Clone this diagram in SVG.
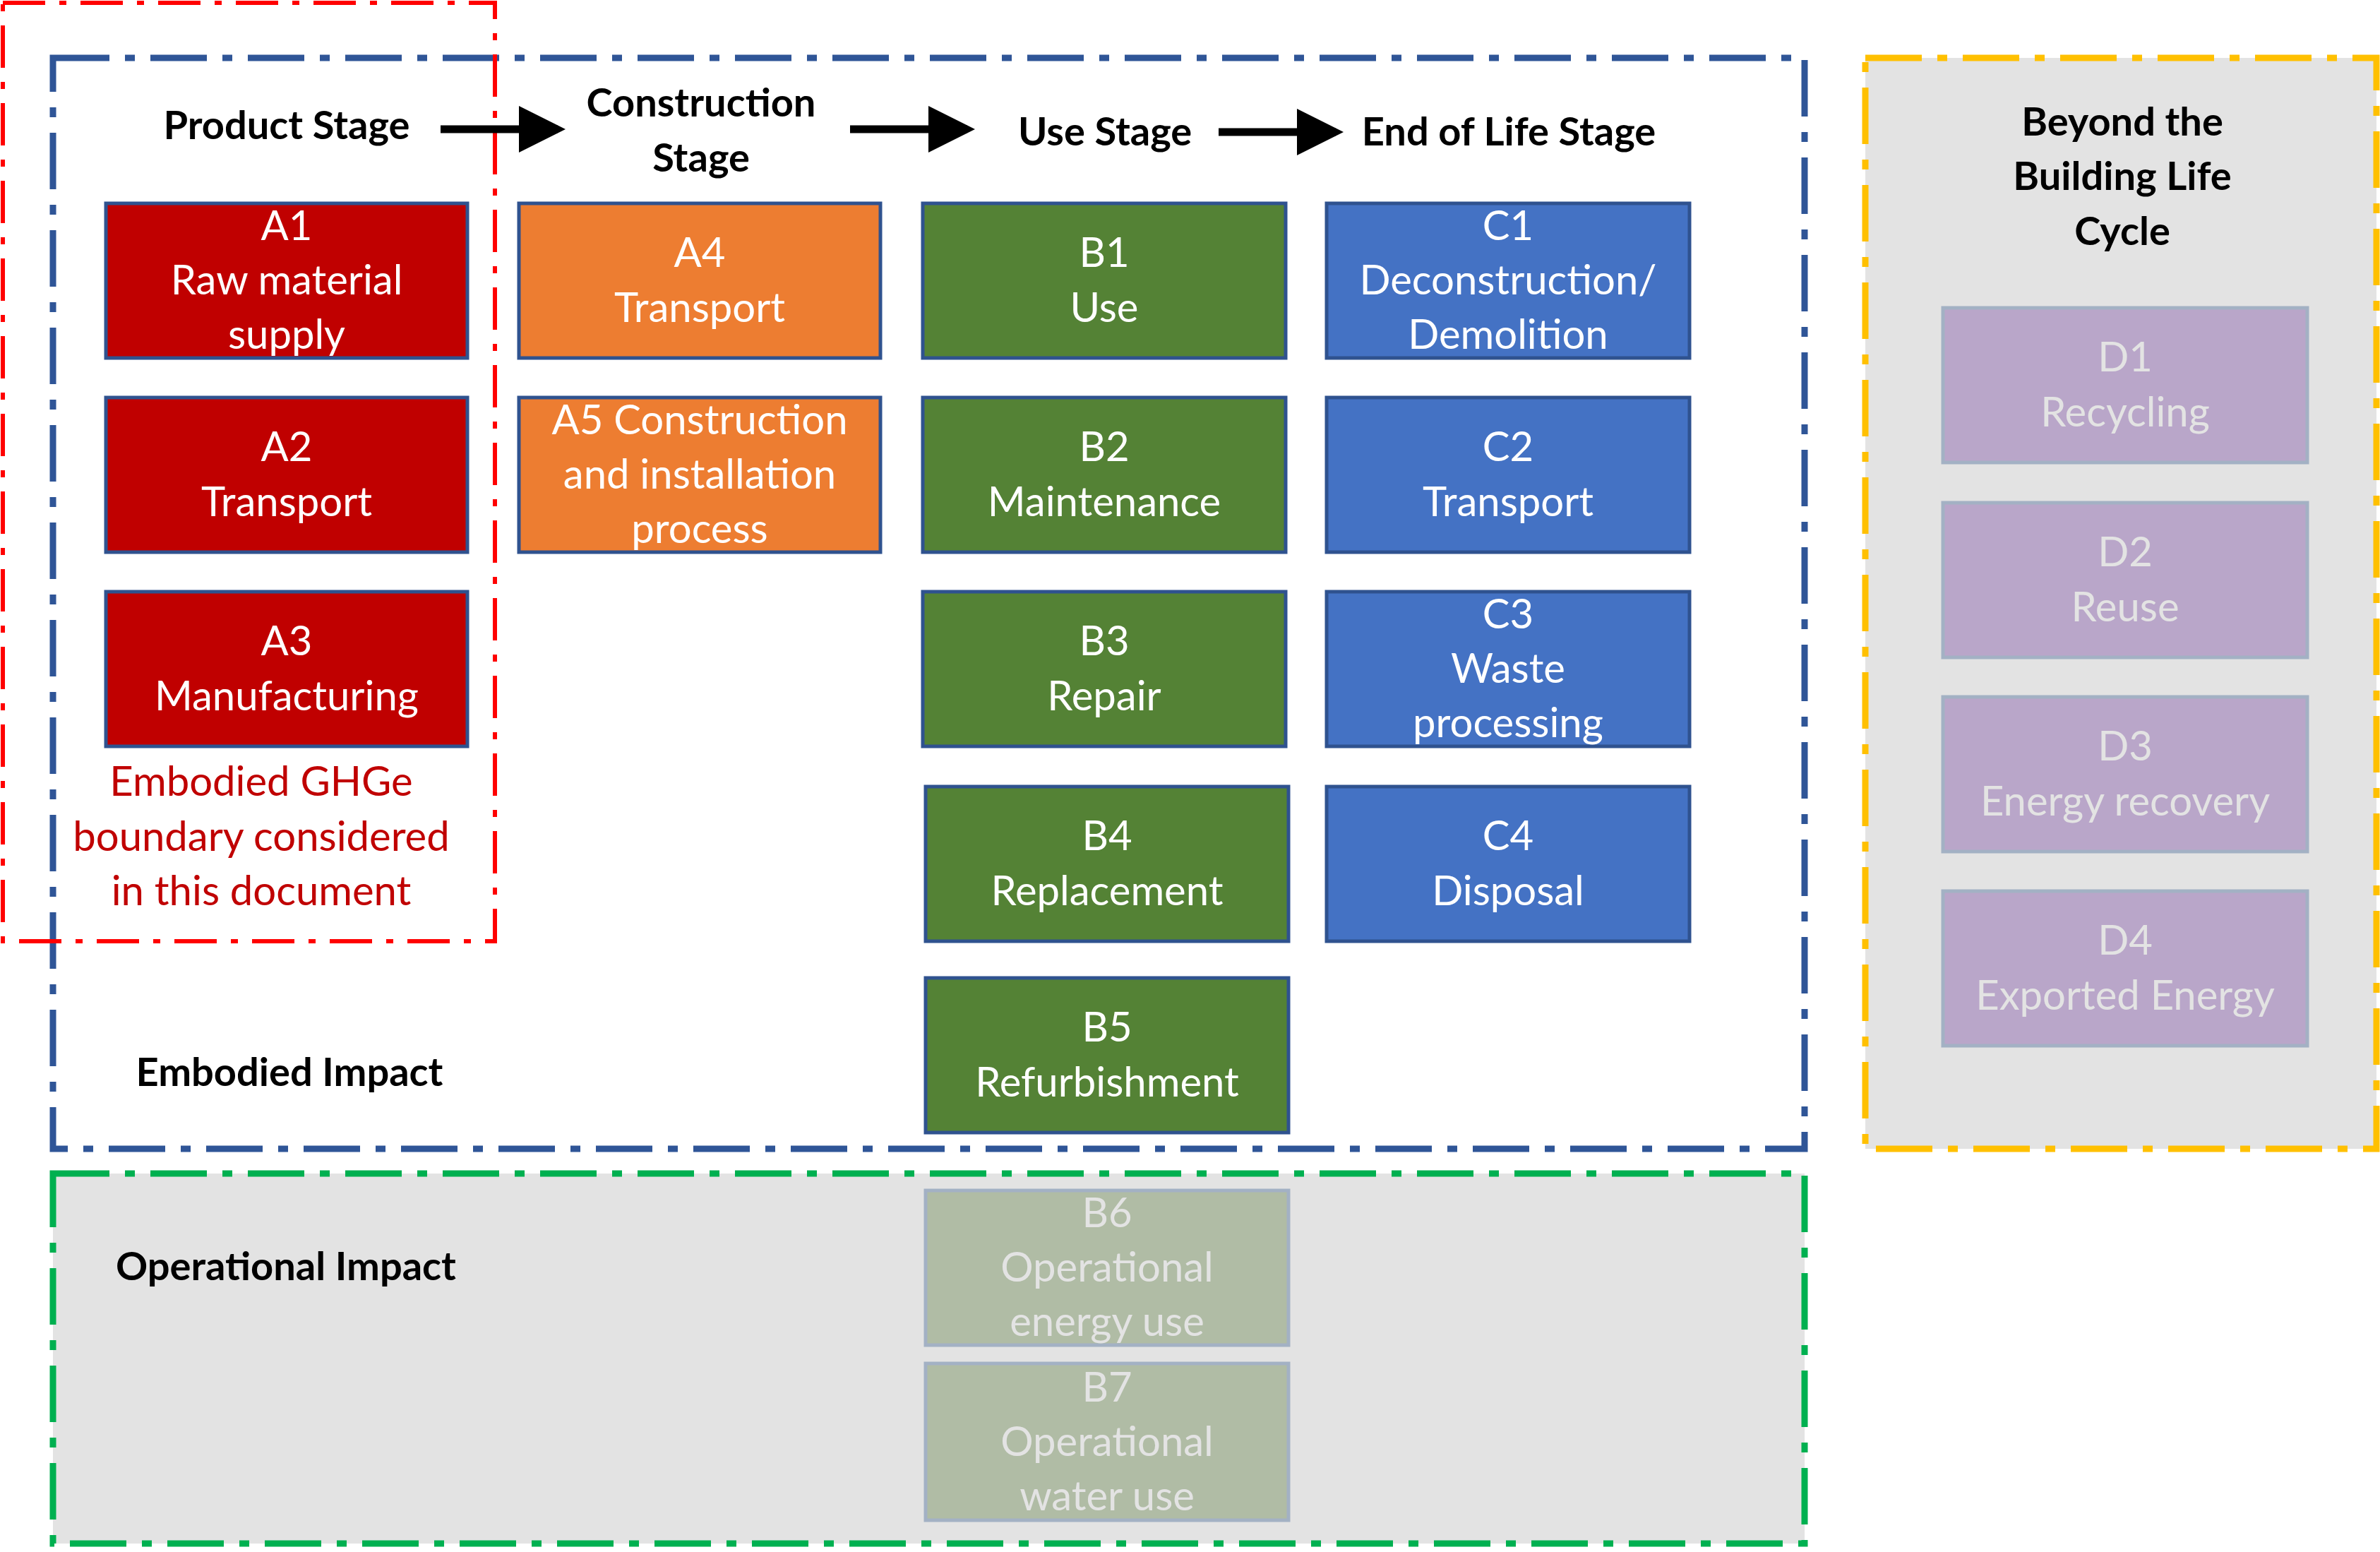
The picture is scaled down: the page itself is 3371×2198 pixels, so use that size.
<svg xmlns="http://www.w3.org/2000/svg" width="3371" height="2198" viewBox="0 0 3371 2198">
<style>
text{font-family:Lato,"Liberation Sans",sans-serif;text-anchor:middle}
.h{font-weight:bold;font-size:56px;fill:#000}
.t{font-size:58px;fill:#fff}
.d{font-size:58px;fill:#e3e3e3}
.nA{fill:#c00000;stroke:#2f528f;stroke-width:5}
.nA4{fill:#ed7d31;stroke:#2f528f;stroke-width:5}
.nB{fill:#548235;stroke:#2f528f;stroke-width:5}
.nC{fill:#4472c4;stroke:#2f528f;stroke-width:5}
.nD{fill:#b9a6c9;stroke:#a3b1c4;stroke-width:5}
.nO{fill:#b0bca5;stroke:#a3b1c4;stroke-width:5}
</style>
<defs>
<marker id="ah" markerWidth="6" markerHeight="6" refX="5" refY="3" orient="auto" markerUnits="strokeWidth"><path d="M0,0 L6,3 L0,6z" fill="#000"/></marker>
</defs>
<rect x="0" y="0" width="3371" height="2198" fill="#fff"/>
<g id="op-bg"><rect x="75" y="1662" width="2481" height="524" fill="#e3e3e3" stroke="#00b050" stroke-width="9" stroke-dasharray="80 22 14 22"/></g>
<g id="beyond-bg"><rect x="2642" y="82" width="724" height="1545" fill="#e3e3e3" stroke="#ffc000" stroke-width="9" stroke-dasharray="80 22 14 22"/></g>
<g id="embodied-box"><rect x="75" y="82" width="2481" height="1545" fill="none" stroke="#2f5597" stroke-width="9" stroke-dasharray="80 22 14 22"/></g>
<g id="ghg-boundary"><rect x="4" y="4" width="697" height="1329" fill="none" stroke="#ff0000" stroke-width="6" stroke-dasharray="60 20 10 20"/></g>
<g id="headers">
<text class="h" x="406" y="197">Product Stage</text>
<text class="h" x="993" y="165">Construction</text>
<text class="h" x="993" y="243">Stage</text>
<text class="h" x="1565" y="206">Use Stage</text>
<text class="h" x="2137" y="206">End of Life Stage</text>
<text class="h" x="410" y="1538">Embodied Impact</text>
<text class="h" x="405" y="1813">Operational Impact</text>
<text class="h" x="3006" y="192">Beyond the</text>
<text class="h" x="3006" y="269">Building Life</text>
<text class="h" x="3006" y="347">Cycle</text>
<text x="370" y="1127" style="font-size:58px;fill:#c00000">Embodied GHGe</text>
<text x="370" y="1205" style="font-size:58px;fill:#c00000">boundary considered</text>
<text x="370" y="1282" style="font-size:58px;fill:#c00000">in this document</text>
</g>
<g id="connectors" stroke="#000" stroke-width="11" marker-end="url(#ah)">
<line x1="624" y1="183" x2="790" y2="183"/>
<line x1="1204" y1="183" x2="1370" y2="183"/>
<line x1="1726" y1="187" x2="1892" y2="187"/>
</g>
<g id="A1"><rect class="nA" x="150" y="288" width="512" height="219"/><text class="t" x="406" y="340">A1</text><text class="t" x="406" y="417">Raw material</text><text class="t" x="406" y="494">supply</text></g>
<g id="A2"><rect class="nA" x="150" y="563" width="512" height="219"/><text class="t" x="406" y="653">A2</text><text class="t" x="406" y="731">Transport</text></g>
<g id="A3"><rect class="nA" x="150" y="838" width="512" height="219"/><text class="t" x="406" y="928">A3</text><text class="t" x="406" y="1006">Manufacturing</text></g>
<g id="A4"><rect class="nA4" x="735" y="288" width="512" height="219"/><text class="t" x="991" y="378">A4</text><text class="t" x="991" y="456">Transport</text></g>
<g id="A5"><rect class="nA4" x="735" y="563" width="512" height="219"/><text class="t" x="991" y="615">A5 Construction</text><text class="t" x="991" y="692">and installation</text><text class="t" x="991" y="769">process</text></g>
<g id="B1"><rect class="nB" x="1307" y="288" width="514" height="219"/><text class="t" x="1564" y="378">B1</text><text class="t" x="1564" y="456">Use</text></g>
<g id="B2"><rect class="nB" x="1307" y="563" width="514" height="219"/><text class="t" x="1564" y="653">B2</text><text class="t" x="1564" y="731">Maintenance</text></g>
<g id="B3"><rect class="nB" x="1307" y="838" width="514" height="219"/><text class="t" x="1564" y="928">B3</text><text class="t" x="1564" y="1006">Repair</text></g>
<g id="B4"><rect class="nB" x="1311" y="1114" width="514" height="219"/><text class="t" x="1568" y="1204">B4</text><text class="t" x="1568" y="1282">Replacement</text></g>
<g id="B5"><rect class="nB" x="1311" y="1385" width="514" height="219"/><text class="t" x="1568" y="1475">B5</text><text class="t" x="1568" y="1553">Refurbishment</text></g>
<g id="B6"><rect class="nO" x="1311" y="1686" width="514" height="219"/><text class="d" x="1568" y="1738">B6</text><text class="d" x="1568" y="1815">Operational</text><text class="d" x="1568" y="1892">energy use</text></g>
<g id="B7"><rect class="nO" x="1311" y="1931" width="514" height="222"/><text class="d" x="1568" y="1985">B7</text><text class="d" x="1568" y="2062">Operational</text><text class="d" x="1568" y="2139">water use</text></g>
<g id="C1"><rect class="nC" x="1879" y="288" width="514" height="219"/><text class="t" x="2136" y="340">C1</text><text class="t" x="2136" y="417">Deconstruction/</text><text class="t" x="2136" y="494">Demolition</text></g>
<g id="C2"><rect class="nC" x="1879" y="563" width="514" height="219"/><text class="t" x="2136" y="653">C2</text><text class="t" x="2136" y="731">Transport</text></g>
<g id="C3"><rect class="nC" x="1879" y="838" width="514" height="219"/><text class="t" x="2136" y="890">C3</text><text class="t" x="2136" y="967">Waste</text><text class="t" x="2136" y="1044">processing</text></g>
<g id="C4"><rect class="nC" x="1879" y="1114" width="514" height="219"/><text class="t" x="2136" y="1204">C4</text><text class="t" x="2136" y="1282">Disposal</text></g>
<g id="D1"><rect class="nD" x="2752" y="436" width="516" height="219"/><text class="d" x="3010" y="526">D1</text><text class="d" x="3010" y="604">Recycling</text></g>
<g id="D2"><rect class="nD" x="2752" y="712" width="516" height="219"/><text class="d" x="3010" y="802">D2</text><text class="d" x="3010" y="880">Reuse</text></g>
<g id="D3"><rect class="nD" x="2752" y="987" width="516" height="219"/><text class="d" x="3010" y="1077">D3</text><text class="d" x="3010" y="1155">Energy recovery</text></g>
<g id="D4"><rect class="nD" x="2752" y="1262" width="516" height="219"/><text class="d" x="3010" y="1352">D4</text><text class="d" x="3010" y="1430">Exported Energy</text></g>
</svg>
